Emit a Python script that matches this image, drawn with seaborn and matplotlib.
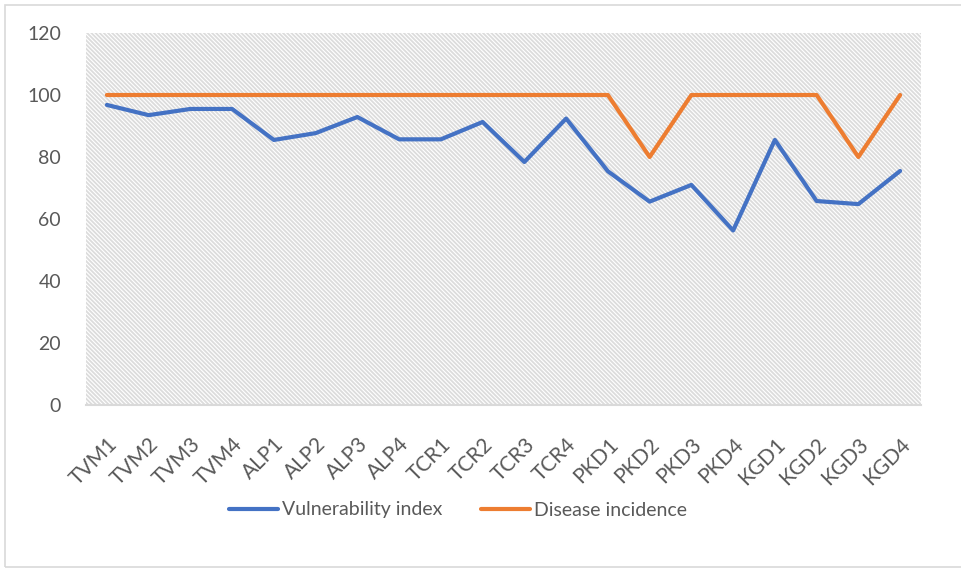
import matplotlib
matplotlib.use("Agg")
import matplotlib.pyplot as plt
import seaborn as sns
import pandas as pd
from matplotlib.patches import Rectangle

categories = ["TVM1", "TVM2", "TVM3", "TVM4", "ALP1", "ALP2", "ALP3", "ALP4",
              "TCR1", "TCR2", "TCR3", "TCR4", "PKD1", "PKD2", "PKD3", "PKD4",
              "KGD1", "KGD2", "KGD3", "KGD4"]
vulnerability = [96.8, 93.5, 95.5, 95.5, 85.5, 87.7, 92.9, 85.7, 85.7, 91.3,
                 78.4, 92.4, 75.4, 65.6, 71.0, 56.3, 85.5, 65.8, 64.8, 75.5]
disease = [100, 100, 100, 100, 100, 100, 100, 100, 100, 100,
           100, 100, 100, 80, 100, 100, 100, 100, 80, 100]
series_names = ["Vulnerability index", "Disease incidence"]
yticks = [0, 20, 40, 60, 80, 100, 120]

df = pd.DataFrame({
    "cat": categories * 2,
    "value": vulnerability + disease,
    "series": [series_names[0]] * len(categories) + [series_names[1]] * len(categories),
})

sns.set_theme(style="white")
plt.rcParams['font.family'] = ['Lato', 'DejaVu Sans']
plt.rcParams['hatch.linewidth'] = 1.3
text_color = "#595959"

fig = plt.figure(figsize=(9.61, 5.69), dpi=100)
# outer chart border
fig.patches.append(Rectangle((5 / 961, 2 / 569), 1.0, 562 / 569, transform=fig.transFigure,
                             facecolor="none", edgecolor="#d9d9d9", linewidth=1.2))
ax = fig.add_axes([86 / 961, (569 - 405) / 569, (921 - 86) / 961, (405 - 33) / 569])

# hatched plot area
ax.add_patch(Rectangle((0, 0), 1, 1, transform=ax.transAxes, facecolor="white",
                       edgecolor="#dcdcdc", hatch="\\" * 8, linewidth=0, zorder=0))

sns.lineplot(data=df, x="cat", y="value", hue="series", sort=False, ax=ax,
             palette=["#4472C4", "#ED7D31"], linewidth=3, zorder=3)

ax.set_xlim(-0.5, len(categories) - 0.5)
ax.set_ylim(0, 120)
ax.set_yticks(yticks)
ax.set_yticklabels([str(v) for v in yticks], fontsize=14, color=text_color)
ax.set_xticks(range(len(categories)))
ax.set_xticklabels(categories, rotation=45, ha="right", rotation_mode="anchor",
                   fontsize=15, color=text_color)
ax.tick_params(axis="x", length=0, pad=21)
ax.tick_params(axis="y", length=0, pad=18)
ax.set_xlabel("")
ax.set_ylabel("")
for s in ["top", "right", "left"]:
    ax.spines[s].set_visible(False)
ax.spines["bottom"].set_color("#d9d9d9")
ax.spines["bottom"].set_linewidth(1.5)

handles, labels = ax.get_legend_handles_labels()
ax.legend(handles, labels, loc="center", bbox_to_anchor=(458 / 961, 1 - 510 / 569),
          bbox_transform=fig.transFigure, ncol=2, frameon=False, fontsize=14,
          handlelength=2.5, handletextpad=0.2, columnspacing=2.0, labelcolor=text_color)

fig.savefig("out.png", dpi=100)
